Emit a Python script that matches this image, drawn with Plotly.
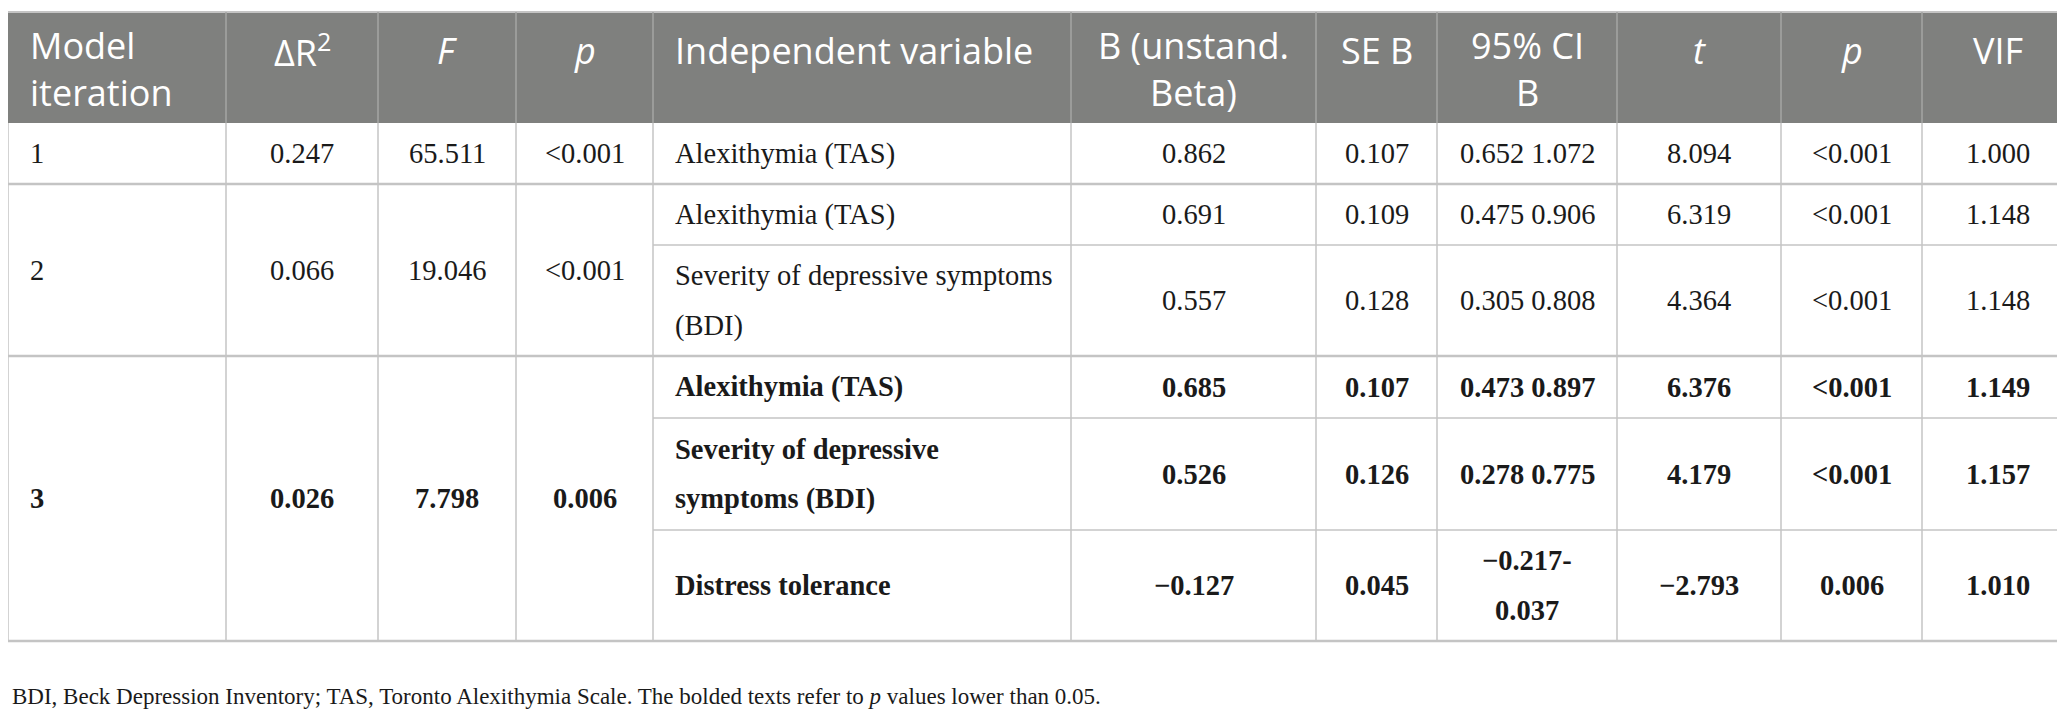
import plotly.graph_objects as go

# ---- table data ----
headers = ["Model<br>iteration", "ΔR<sup>2</sup>", "<i>F</i>", "<i>p</i>",
           "Independent variable", "B (unstand.<br>Beta)", "SE B",
           "95% CI<br>B", "<i>t</i>", "<i>p</i>", "VIF"]

model_iter = ["1", "2", "3"]
delta_r2 = ["0.247", "0.066", "0.026"]
f_vals = ["65.511", "19.046", "7.798"]
p_model = ["<0.001", "<0.001", "0.006"]
model_bold = [False, False, True]

predictors = ["Alexithymia (TAS)", "Alexithymia (TAS)",
              "Severity of depressive symptoms (BDI)", "Alexithymia (TAS)",
              "Severity of depressive symptoms (BDI)", "Distress tolerance"]
pred_model = [0, 1, 1, 2, 2, 2]
b_vals = ["0.862", "0.691", "0.557", "0.685", "0.526", "−0.127"]
se_b = ["0.107", "0.109", "0.128", "0.107", "0.126", "0.045"]
ci_b = ["0.652 1.072", "0.475 0.906", "0.305 0.808", "0.473 0.897",
        "0.278 0.775", "−0.217-0.037"]
t_vals = ["8.094", "6.319", "4.364", "6.376", "4.179", "−2.793"]
p_pred = ["<0.001", "<0.001", "<0.001", "<0.001", "<0.001", "0.006"]
vif = ["1.000", "1.148", "1.148", "1.149", "1.157", "1.010"]

footnote = ("BDI, Beck Depression Inventory; TAS, Toronto Alexithymia Scale. "
            "The bolded texts refer to <i>p</i> values lower than 0.05.")

# ---- layout ----
W, H = 2065, 711
col_edges = [0, 218, 370, 508, 645, 1063, 1308, 1429, 1609, 1773, 1914, 2065]
head_top, head_bot = 4, 115
row_edges = [115, 176, 237, 348, 410, 522, 633]
pad = 20
body_gap = 50
head_y1, head_y2 = 42, 61  # centre of one-line / two-line header text
# where long cell texts wrap (cell column, row) -> character index
wraps = {(4, 2): 31, (4, 4): 22, (7, 5): 7}

head_font = dict(family="Open Sans", size=36, color="white")
body_font = dict(family="Liberation Serif", size=28.5, color="#1a1a1a")
grid = "#c4c4c4"

fig = go.Figure()
shapes = []
annots = []


def text_lines(x, yc, lines, gap, anchor, font):
    n = len(lines)
    for i, ln in enumerate(lines):
        annots.append(dict(
            x=x, y=yc + (i - (n - 1) / 2) * gap, xref="x", yref="y",
            text=ln, showarrow=False, xanchor=anchor, yanchor="middle",
            font=font,
        ))


def cell_x(c):
    if c in (0, 4):
        return col_edges[c] + pad, "left"
    return (col_edges[c] + col_edges[c + 1]) / 2, "center"


def split(c, r, s):
    k = wraps.get((c, r))
    if k is None:
        return [s]
    return [s[:k].rstrip(), s[k:].strip()]


# header block
shapes.append(dict(type="rect", x0=0, x1=W, y0=head_top, y1=head_bot,
                   fillcolor="#7f807e", line_width=0, layer="below"))
shapes.append(dict(type="line", x0=0, x1=W, y0=head_top, y1=head_top,
                   line=dict(color=grid, width=2)))
for xe in col_edges[1:-1]:
    shapes.append(dict(type="line", x0=xe, x1=xe, y0=head_top, y1=head_bot,
                       line=dict(color="#a5a6a4", width=1.5)))
for c, h in enumerate(headers):
    x, anchor = cell_x(c)
    annots.append(dict(
        x=x, y=head_y2 if "<br>" in h else head_y1, xref="x", yref="y",
        text=h, showarrow=False, xanchor=anchor, yanchor="middle",
        align=anchor, font=head_font,
    ))

# body grid
for xe in col_edges:
    shapes.append(dict(type="line", x0=xe, x1=xe, y0=head_bot, y1=row_edges[-1],
                       line=dict(color=grid, width=1.5)))

# model spans (rows covered by each model)
spans = []
for m in range(len(model_iter)):
    rows = [r for r, pm in enumerate(pred_model) if pm == m]
    spans.append((row_edges[rows[0]], row_edges[rows[-1] + 1]))

for m, (y0, y1) in enumerate(spans):
    shapes.append(dict(type="line", x0=0, x1=W, y0=y1, y1=y1,
                       line=dict(color=grid, width=2.5)))
    yc = (y0 + y1) / 2
    for c, vals in enumerate([model_iter, delta_r2, f_vals, p_model]):
        s = vals[m]
        if model_bold[m]:
            s = f"<b>{s}</b>"
        x, anchor = cell_x(c)
        text_lines(x, yc, [s], body_gap, anchor, body_font)

pred_cols = [predictors, b_vals, se_b, ci_b, t_vals, p_pred, vif]
for r in range(len(predictors)):
    y0, y1 = row_edges[r], row_edges[r + 1]
    if y1 not in [s[1] for s in spans]:
        shapes.append(dict(type="line", x0=col_edges[4], x1=W, y0=y1, y1=y1,
                           line=dict(color=grid, width=1.5)))
    bold = model_bold[pred_model[r]]
    for j, vals in enumerate(pred_cols):
        c = 4 + j
        lines = split(c, r, vals[r])
        if bold:
            lines = [f"<b>{ln}</b>" for ln in lines]
        x, anchor = cell_x(c)
        text_lines(x, (y0 + y1) / 2, lines, body_gap, anchor, body_font)

# footnote
annots.append(dict(x=2, y=688, xref="x", yref="y", text=footnote,
                   showarrow=False, xanchor="left", yanchor="middle",
                   font=dict(family="Liberation Serif", size=23, color="#1a1a1a")))

fig.update_layout(
    width=W, height=H,
    margin=dict(l=0, r=0, t=0, b=0),
    paper_bgcolor="white", plot_bgcolor="white",
    xaxis=dict(range=[0, W], visible=False, fixedrange=True),
    yaxis=dict(range=[H, 0], visible=False, fixedrange=True),
    shapes=shapes, annotations=annots,
    showlegend=False,
)

fig.write_html("out.html")
